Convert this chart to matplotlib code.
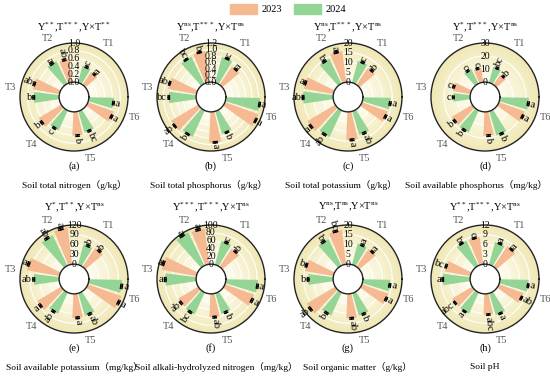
import numpy as np
import matplotlib.pyplot as plt
from matplotlib.patches import Patch
from matplotlib.colors import LinearSegmentedColormap

plt.rcParams['font.family'] = ['Liberation Serif', 'Noto Sans CJK SC']
plt.rcParams['mathtext.fontset'] = 'custom'
plt.rcParams['mathtext.rm'] = 'Liberation Serif'
plt.rcParams['mathtext.it'] = 'Liberation Serif:italic'
plt.rcParams['axes.axisbelow'] = True

treatments = ['T1', 'T2', 'T3', 'T4', 'T5', 'T6']
years = ['2023', '2024']

# (a) total nitrogen
tn_2023 = [0.40, 0.60, 0.69, 0.67, 0.61, 0.70]
tn_2024 = [0.45, 0.64, 0.65, 0.56, 0.57, 0.64]
tn_err_2023 = [0.02, 0.02, 0.02, 0.02, 0.02, 0.02]
tn_err_2024 = [0.02, 0.02, 0.02, 0.02, 0.02, 0.02]
tn_sig_2023 = ['a', 'ab', 'ab', 'b', 'b', 'a']
tn_sig_2024 = ['c', 'a', 'b', 'c', 'bc', 'a']
tn_ticks = ['0.0', '0.2', '0.4', '0.6', '0.8', '1.0']

# (b) total phosphorus
tp_2023 = [0.68, 0.96, 0.88, 0.97, 0.94, 1.09]
tp_2024 = [0.82, 0.92, 0.84, 0.89, 0.73, 1.05]
tp_err_2023 = [0.02, 0.02, 0.02, 0.02, 0.02, 0.02]
tp_err_2024 = [0.02, 0.02, 0.02, 0.02, 0.02, 0.02]
tp_sig_2023 = ['a', 'b', 'ab', 'ab', 'a', 'a']
tp_sig_2024 = ['c', 'bc', 'bc', 'b', 'b', 'a']
tp_ticks = ['0.0', '0.2', '0.4', '0.6', '0.8', '1.0', '1.2']

# (c) total potassium
tk_2023 = [10.6, 16.0, 15.4, 16.6, 14.4, 14.0]
tk_2024 = [11.6, 14.2, 15.4, 15.0, 12.6, 14.2]
tk_err_2023 = [0.4, 0.4, 0.4, 0.4, 0.4, 0.4]
tk_err_2024 = [0.4, 0.4, 0.4, 0.4, 0.4, 0.4]
tk_sig_2023 = ['b', 'a', 'a', 'a', 'a', 'a']
tk_sig_2024 = ['c', 'b', 'ab', 'ab', 'ab', 'a']
tk_ticks = ['0', '5', '10', '15', '20']

# (d) available phosphorus
ap_2023 = [9.6, 11.1, 13.8, 18.3, 18.3, 21.0]
ap_2024 = [12.6, 12.6, 12.9, 18.6, 19.5, 22.2]
ap_err_2023 = [0.6, 0.6, 0.6, 0.6, 0.6, 0.6]
ap_err_2024 = [0.6, 0.6, 0.6, 0.6, 0.6, 0.6]
ap_sig_2023 = ['b', 'c', 'c', 'b', 'b', 'a']
ap_sig_2024 = ['bc', 'c', 'c', 'b', 'b', 'a']
ap_ticks = ['0', '10', '20', '30']

# (e) available potassium
ak_2023 = [70, 113, 101, 86, 74, 109]
ak_2024 = [65, 104, 78, 72, 72, 102]
ak_err_2023 = [2.5, 2.5, 2.5, 2.5, 2.5, 2.5]
ak_err_2024 = [2.5, 2.5, 2.5, 2.5, 2.5, 2.5]
ak_sig_2023 = ['b', 'a', 'a', 'a', 'a', 'a']
ak_sig_2024 = ['b', 'ab', 'ab', 'ab', 'ab', 'a']
ak_ticks = ['0', '30', '60', '90', '120']

# (f) alkali-hydrolyzed nitrogen
an_2023 = [56, 92, 90, 60, 60, 80]
an_2024 = [63, 95, 79, 62, 55, 82]
an_err_2023 = [2, 2, 2, 2, 2, 2]
an_err_2024 = [2, 2, 2, 2, 2, 2]
an_sig_2023 = ['b', 'a', 'a', 'ab', 'ab', 'a']
an_sig_2024 = ['c', 'a', 'a', 'bc', 'b', 'a']
an_ticks = ['0', '20', '40', '60', '80', '100']

# (g) organic matter
om_2023 = [11.0, 17.6, 14.8, 17.0, 12.6, 14.4]
om_2024 = [11.2, 15.2, 12.8, 13.0, 12.0, 14.0]
om_err_2023 = [0.4, 0.4, 0.4, 0.4, 0.4, 0.4]
om_err_2024 = [0.4, 0.4, 0.4, 0.4, 0.4, 0.4]
om_sig_2023 = ['a', 'bc', 'b', 'ab', 'ab', 'a']
om_sig_2024 = ['a', 'b', 'b', 'b', 'b', 'a']
om_ticks = ['0', '5', '10', '15', '20']

# (h) pH
ph_2023 = [7.6, 8.4, 8.0, 7.2, 6.4, 8.0]
ph_2024 = [7.2, 8.5, 8.4, 7.2, 7.0, 8.8]
ph_err_2023 = [0.2, 0.2, 0.2, 0.2, 0.2, 0.2]
ph_err_2024 = [0.2, 0.2, 0.2, 0.2, 0.2, 0.2]
ph_sig_2023 = ['a', 'c', 'bc', 'abc', 'abc', 'ab']
ph_sig_2024 = ['a', 'b', 'a', 'a', 'a', 'a']
ph_ticks = ['0', '3', '6', '9', '12']

titles = [r'Y$^{**}$,T$^{***}$,Y×T$^{**}$',
          r'Y$^{\mathrm{ns}}$,T$^{***}$,Y×T$^{\mathrm{ns}}$',
          r'Y$^{\mathrm{ns}}$,T$^{***}$,Y×T$^{\mathrm{ns}}$',
          r'Y$^{*}$,T$^{***}$,Y×T$^{\mathrm{ns}}$',
          r'Y$^{*}$,T$^{**}$,Y×T$^{\mathrm{ns}}$',
          r'Y$^{***}$,T$^{***}$,Y×T$^{\mathrm{ns}}$',
          r'Y$^{\mathrm{ns}}$,T$^{\mathrm{ns}}$,Y×T$^{\mathrm{ns}}$',
          r'Y$^{**}$,T$^{***}$,Y×T$^{\mathrm{ns}}$']
captions = ['Soil total nitrogen（g/kg）', 'Soil total phosphorus（g/kg）',
            'Soil total potassium（g/kg）', 'Soil available phosphorus（mg/kg）',
            'Soil available potassium（mg/kg）', 'Soil alkali-hydrolyzed nitrogen（mg/kg）',
            'Soil organic matter（g/kg）', 'Soil pH']
tags = ['(a)', '(b)', '(c)', '(d)', '(e)', '(f)', '(g)', '(h)']

panels = [
    (tn_2023, tn_2024, tn_err_2023, tn_err_2024, tn_sig_2023, tn_sig_2024, tn_ticks),
    (tp_2023, tp_2024, tp_err_2023, tp_err_2024, tp_sig_2023, tp_sig_2024, tp_ticks),
    (tk_2023, tk_2024, tk_err_2023, tk_err_2024, tk_sig_2023, tk_sig_2024, tk_ticks),
    (ap_2023, ap_2024, ap_err_2023, ap_err_2024, ap_sig_2023, ap_sig_2024, ap_ticks),
    (ak_2023, ak_2024, ak_err_2023, ak_err_2024, ak_sig_2023, ak_sig_2024, ak_ticks),
    (an_2023, an_2024, an_err_2023, an_err_2024, an_sig_2023, an_sig_2024, an_ticks),
    (om_2023, om_2024, om_err_2023, om_err_2024, om_sig_2023, om_sig_2024, om_ticks),
    (ph_2023, ph_2024, ph_err_2023, ph_err_2024, ph_sig_2023, ph_sig_2024, ph_ticks),
]

c_2023 = '#F6BA92'
c_2024 = '#94D494'
bg_cmap = LinearSegmentedColormap.from_list('bg', ['#fdfcf0', '#f7f2d2', '#efe7b3'])

W, H = 550, 381
fig = plt.figure(figsize=(5.5, 3.81), dpi=100)

slot = 2 * np.pi / 19
start = np.radians(48)
th_2023 = start + slot * 3 * np.arange(6)
th_2024 = th_2023 + slot
th_tick = th_2023 + slot / 2
bar_w = slot * 0.82

col_x = [74, 211, 348, 485]
row_y = [97, 279]
cap_x = [74, 209, 341, 476, 74, 216, 357, 485]
R = 54


def letter(ax, th, r, s):
    deg = np.degrees(th) % 360
    if 90 < deg < 270:
        rot, ha = deg - 180, 'right'
    else:
        rot, ha = (deg if deg < 90 else deg - 360), 'left'
    ax.text(th, r, s, rotation=rot, rotation_mode='anchor', ha=ha, va='center',
            fontsize=7.5, zorder=6)


for k, (v23, v24, e23, e24, s23, s24, tlabels) in enumerate(panels):
    cx = col_x[k % 4]
    cy = row_y[k // 4]
    ax = fig.add_axes([(cx - R) / W, 1 - (cy + R) / H, 2 * R / W, 2 * R / H],
                      projection='polar')
    ticks = [float(t) for t in tlabels]
    rmax = ticks[-1]

    # background gradient
    tt = np.linspace(0, 2 * np.pi, 121)
    rr = np.linspace(0, rmax, 30)
    T, RR = np.meshgrid(tt, rr)
    ax.pcolormesh(T, RR, RR[:-1, :-1] / rmax, cmap=bg_cmap, vmin=0, vmax=1,
                  shading='flat', zorder=0.1)

    ax.bar(th_2023, v23, width=bar_w, color=c_2023, zorder=2)
    ax.bar(th_2024, v24, width=bar_w, color=c_2024, zorder=2)

    d = np.radians(2.5)
    for th_arr, vals, errs, sigs in ((th_2023, v23, e23, s23), (th_2024, v24, e24, s24)):
        for th, v, e, s in zip(th_arr, vals, errs, sigs):
            ax.plot([th, th], [v - e, v + e], color='black', lw=1.0, zorder=4)
            ax.plot([th - d, th + d], [v + e, v + e], color='black', lw=1.0, zorder=4)
            ax.plot([th - d, th + d], [v - e, v - e], color='black', lw=1.0, zorder=4)
            letter(ax, th, v + e + 0.03 * rmax, s)

    ax.set_ylim(0, rmax)
    ax.set_rorigin(-0.38 * rmax)
    ax.set_yticks(ticks)
    ax.set_yticklabels([])
    ax.yaxis.grid(True, color='white', lw=0.8)
    ax.xaxis.grid(False)
    for t, lab in zip(ticks, tlabels):
        ax.text(np.pi / 2, t, lab, ha='center', va='center', fontsize=7, zorder=7)

    ax.set_xticks(th_tick)
    ax.set_xticklabels(treatments, color='#555555', fontsize=7.5)
    ax.tick_params(axis='x', pad=0, length=0)
    ax.tick_params(axis='y', length=0)
    for sp in ax.spines.values():
        sp.set_color('#222222')
        sp.set_linewidth(1.0)

    title_y = [27, 207][k // 4]
    tag_y = [166, 348][k // 4]
    cap_y = [185, 367][k // 4]
    fig.text(cx / W, 1 - title_y / H, titles[k], ha='center', va='center', fontsize=7.5)
    fig.text(cx / W, 1 - tag_y / H, tags[k], ha='center', va='center', fontsize=7.5)
    fig.text(cap_x[k] / W, 1 - cap_y / H, captions[k], ha='center', va='center',
             fontsize=6.8)

handles = [Patch(color=c_2023, label=years[0]), Patch(color=c_2024, label=years[1])]
fig.legend(handles=handles, loc='center', bbox_to_anchor=(288 / W, 1 - 9 / H), ncol=2,
           frameon=False, fontsize=7.5, handlelength=2.6, handleheight=1.1,
           columnspacing=1.2, handletextpad=0.4)

fig.savefig('out.png', dpi=100)
